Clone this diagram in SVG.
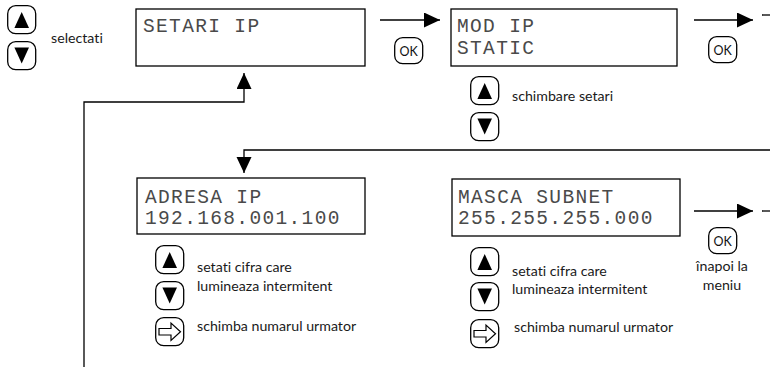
<svg xmlns="http://www.w3.org/2000/svg" width="770" height="367" viewBox="0 0 770 367">
<style>
.box{fill:#fff;stroke:#000;stroke-width:1.3}
.lcd{font-family:"Liberation Mono","DejaVu Sans Mono",monospace;font-size:19.5px;letter-spacing:1.35px;fill:#4a4a4a}
.lbl{font-family:Lato,"Open Sans",sans-serif;font-size:14.2px;fill:#1a1a1a;font-variant-ligatures:none}
.btn{fill:#fff;stroke:#000;stroke-width:1.3}
.ok{font-family:Lato,"Open Sans",sans-serif;font-size:12.5px;fill:#111;text-anchor:middle}
.con{fill:none;stroke:#000;stroke-width:1.3}
</style>
<defs>
<marker id="ah" markerUnits="userSpaceOnUse" markerWidth="17" markerHeight="16" refX="16" refY="7.5" orient="auto">
<path d="M0,0 L16,7.5 L0,15 z" fill="#000"/>
</marker>
<symbol id="b-up" overflow="visible"><rect class="btn" x="0.7" y="0.7" width="28" height="28" rx="8"/><polygon points="14.7,7 22,23 7.4,23" fill="#000"/></symbol>
<symbol id="b-down" overflow="visible"><rect class="btn" x="0.7" y="0.7" width="28" height="28" rx="8"/><polygon points="7.4,6.5 22,6.5 14.7,22.5" fill="#000"/></symbol>
<symbol id="b-right" overflow="visible"><rect class="btn" x="0.7" y="0.7" width="28" height="28" rx="8"/><polygon points="4,11.5 16,11.5 16,6 25.5,14.7 16,23.4 16,18 4,18" fill="#fff" stroke="#000" stroke-width="1.2"/></symbol>
<symbol id="b-ok" overflow="visible"><rect class="btn" x="0.7" y="0.7" width="28" height="26" rx="8"/><text class="ok" x="14.7" y="18.5">OK</text></symbol>
</defs>
<rect width="770" height="367" fill="#fff"/>

<g id="connectors">
<line class="con" x1="380" y1="20" x2="440" y2="20" marker-end="url(#ah)"/>
<line class="con" x1="694" y1="20" x2="753" y2="20" marker-end="url(#ah)"/>
<line class="con" x1="762" y1="15" x2="770" y2="15"/>
<polyline class="con" points="770,150 244,150 244,173" marker-end="url(#ah)"/>
<line class="con" x1="694" y1="211" x2="753" y2="211" marker-end="url(#ah)"/>
<line class="con" x1="762" y1="211" x2="770" y2="211"/>
<polyline class="con" points="84,367 84,102 244,102 244,73" marker-end="url(#ah)"/>
</g>

<g id="select-keys">
<use href="#b-up" x="7" y="5"/>
<use href="#b-down" x="7" y="41"/>
<text class="lbl" x="51" y="43">selectati</text>
</g>

<g id="setari-ip">
<rect class="box" x="136" y="9" width="229" height="57"/>
<text class="lcd" x="143" y="32">SETARI IP</text>
</g>

<g id="ok-1"><use href="#b-ok" x="394" y="37"/></g>

<g id="mod-ip">
<rect class="box" x="451" y="9" width="226" height="57"/>
<text class="lcd" x="457" y="32">MOD IP</text>
<text class="lcd" x="457" y="54">STATIC</text>
</g>

<g id="ok-2"><use href="#b-ok" x="708" y="36"/></g>

<g id="mod-keys">
<use href="#b-up" x="470" y="76"/>
<use href="#b-down" x="470" y="112"/>
<text class="lbl" x="512" y="101">schimbare setari</text>
</g>

<g id="adresa-ip">
<rect class="box" x="137" y="178" width="228" height="56"/>
<text class="lcd" x="145" y="203">ADRESA IP</text>
<text class="lcd" x="145" y="224">192.168.001.100</text>
</g>

<g id="adresa-keys">
<use href="#b-up" x="155" y="245"/>
<use href="#b-down" x="155" y="281"/>
<use href="#b-right" x="155" y="317"/>
<text class="lbl" x="197" y="272">setati cifra care</text>
<text class="lbl" x="197" y="291">lumineaza intermitent</text>
<text class="lbl" x="197" y="331">schimba numarul urmator</text>
</g>

<g id="masca-subnet">
<rect class="box" x="452" y="179" width="228" height="57"/>
<text class="lcd" x="458" y="203">MASCA SUBNET</text>
<text class="lcd" x="458" y="224">255.255.255.000</text>
</g>

<g id="masca-keys">
<use href="#b-up" x="470" y="247"/>
<use href="#b-down" x="470" y="282"/>
<use href="#b-right" x="470" y="319"/>
<text class="lbl" x="512" y="276">setati cifra care</text>
<text class="lbl" x="512" y="294">lumineaza intermitent</text>
<text class="lbl" x="514" y="332">schimba numarul urmator</text>
</g>

<g id="ok-3">
<use href="#b-ok" x="708" y="227"/>
<text class="lbl" x="722" y="271" text-anchor="middle">înapoi la</text>
<text class="lbl" x="722" y="290" text-anchor="middle">meniu</text>
</g>
</svg>
